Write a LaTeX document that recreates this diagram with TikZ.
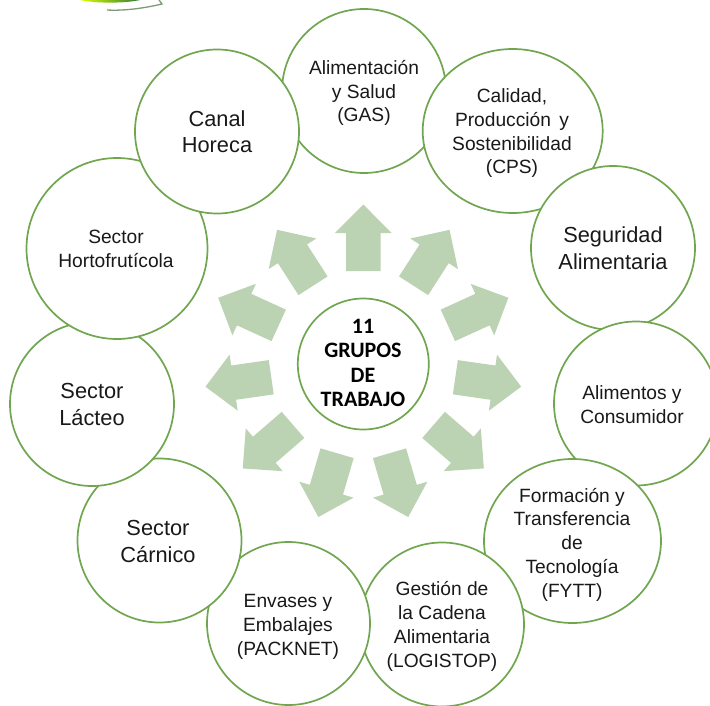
\documentclass[tikz,border=0pt]{standalone}
\usepackage{fontspec}
\setmainfont{Liberation Sans}
\newfontfamily\centrefont{Carlito}
\usetikzlibrary{shapes.geometric}
\definecolor{ringgreen}{HTML}{70A64F}
\definecolor{arrowgreen}{HTML}{BBD3B3}
\definecolor{logoline}{HTML}{7F9A76}
\tikzset{
  x=1pt,y=-1pt,
  group/.style={ellipse,draw=ringgreen,line width=1.7pt,fill=white,inner sep=0pt,outer sep=0pt},
  smalltext/.style={anchor=base,align=center,inner sep=0pt,text=black!90,font=\fontsize{19.2}{23.7}\selectfont},
  bigtext/.style={anchor=base,align=center,inner sep=0pt,text=black!90,font=\fontsize{21.8}{26.6}\selectfont},
  centretext/.style={anchor=base,align=center,inner sep=0pt,text=black,font=\centrefont\bfseries\fontsize{22}{24.5}\selectfont},
  blockarrow/.style={fill=arrowgreen,draw=none}
}
\newcommand{\grp}[5]{\node[group,minimum width=#4pt,minimum height=#5pt] (#1) at (#2,#3) {};}
\begin{document}
\begin{tikzpicture}
\useasboundingbox (0,0) rectangle (710,706);
\clip (0,0) rectangle (710,706);
% logo remnant
\shade[left color=yellow!85!green,right color=green!35!black!80] (80,0) .. controls (95,3.5) and (125,3.5) .. (140,0) -- cycle;
\draw[logoline,line width=1.3pt] (107,10) .. controls (125,11) and (145,8) .. (162,4) -- (159,0);
% rings, each one over the one before
\grp{gas}{364}{91}{164}{164}
\grp{cps}{512.7}{131}{180}{164}
\grp{seg}{613}{248}{164}{164}
\grp{con}{636}{403.5}{164}{164}
\grp{fytt}{572.5}{541}{177}{164}
\grp{log}{442}{624.5}{164}{164}
\grp{pack}{288.5}{623.5}{163}{163}
\grp{car}{159.5}{540.5}{164}{164}
\grp{lac}{92}{404}{164}{164}
\grp{hort}{117}{248.5}{181}{181}
\grp{hor}{217}{131.5}{164}{164}
\grp{mid}{363.3}{364}{131}{131}
% labels (anchored at the baseline of the last line)
\node[smalltext] (tgas) at (364,122) {Alimentación\\y Salud\\(GAS)};
\node[smalltext] (tcps) at (512,174) {Calidad,\\Producción\hspace{3pt} y\\Sostenibilidad\\(CPS)};
\node[bigtext] (tseg) at (613,269) {Seguridad\\Alimentaria};
\node[smalltext] (tcon) at (632,423) {Alimentos y\\Consumidor};
\node[smalltext] (tfytt) at (572,597) {Formación y\\Transferencia\\de\\Tecnología\\(FYTT)};
\node[smalltext] (tlog) at (442,667) {Gestión de\\la Cadena\\Alimentaria\\(LOGISTOP)};
\node[smalltext] (tpack) at (288,655) {Envases y\\Embalajes\\(PACKNET)};
\node[bigtext] (tcar) at (158,562) {Sector\\Cárnico};
\node[bigtext] (tlac) at (92,425) {Sector\\Lácteo};
\node[smalltext] (thort) at (116,267) {Sector\\Hortofrutícola};
\node[bigtext] (thor) at (217,153) {Canal\\Horeca};
\node[centretext] (tmid) at (363,406.7) {11\\GRUPOS\\DE\\TRABAJO};
% block arrows around the centre
\foreach \k in {0,...,10}{
  \pgfmathsetmacro{\ang}{32.727*\k}
  \begin{scope}[shift={(mid.center)},rotate=\ang]
    \fill[blockarrow] (-17.3,-93) -- (17.3,-93) -- (17.3,-131) -- (28.3,-131) -- (0,-159.5) -- (-28.3,-131) -- (-17.3,-131) -- cycle;
  \end{scope}
}
\end{tikzpicture}
\end{document}
